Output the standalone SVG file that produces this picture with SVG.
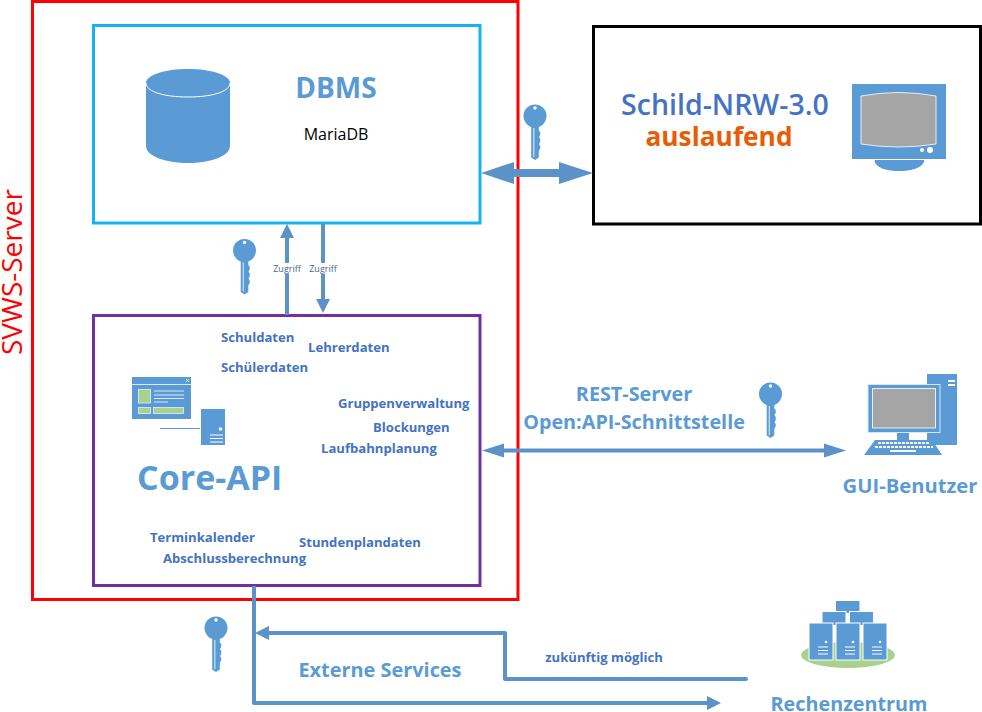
<svg xmlns="http://www.w3.org/2000/svg" width="982" height="712" viewBox="0 0 982 712">
<style>
text{font-family:"Open Sans","Noto Sans","Liberation Sans",sans-serif}
.box{fill:none;stroke-width:3}
.b{fill:#5b9bd5}
.g{fill:#a9d18e;stroke:#e4eef8;stroke-width:.8}
.gr{fill:#a5a5a5;stroke:#e4eef8;stroke-width:1}
.l{fill:#4472c4;font-weight:700;font-size:13.1px}
.h{fill:#5b9bd5;font-weight:700}
.z{fill:#44688a;font-size:9px}
.c{fill:none;stroke:#5b93c9;stroke-width:4}
.a{fill:#5b93c9}
</style>
<defs>
<g id="key">
<path class="b" d="M-3.8 10H3.800V14.500L5.200 16V19L4 21L5.200 23V26L4 28L5.200 30V32.500L3.800 35V41.500L0 44L-3.800 41.500Z"/>
<circle class="b" cx="0" cy="0" r="11.500"/>
<circle cx="0" cy="-8" r="1.700" fill="#fff"/>
<path d="M-1.200 12V41" stroke="#cfe1f3" stroke-width="1.200" fill="none"/>
</g>
<g id="srv">
<rect class="b" x="0" y="0" width="24" height="37" stroke="#fff" stroke-width="1"/>
<circle cx="17" cy="19" r="1.300" fill="#fff"/>
<path d="M9 24H19M9 27.500H19M9 31H19" stroke="#fff" stroke-width="1"/>
</g>
</defs>

<g id="svws-server">
<rect class="box" x="32.500" y="1.500" width="485.500" height="598" stroke="#ff0000"/>
<text transform="translate(22,355) rotate(-90)" font-size="28" fill="#ff0000">SVWS-Server</text>
</g>

<g id="dbms">
<rect class="box" x="93.500" y="25.500" width="386.500" height="197.500" stroke="#17b2ef"/>
<path class="b" d="M146 83C146 75 165 69 188 69S230 75 230 83V146C230 156 211 163 188 163S146 156 146 146Z"/>
<path d="M146 83C146 92 165 97 188 97S230 92 230 83" fill="none" stroke="#fff" stroke-width="1"/>
<text class="h" x="336" y="98" font-size="28" text-anchor="middle">DBMS</text>
<text x="336" y="140" font-size="16" text-anchor="middle" fill="#000">MariaDB</text>
</g>

<g id="schild">
<rect class="box" x="593.500" y="26.500" width="387" height="197.500" stroke="#000"/>
<text x="725" y="115" font-size="28.500" font-weight="600" fill="#4472c4" text-anchor="middle">Schild-NRW-3.0</text>
<text x="719" y="146" font-size="26.300" font-weight="700" fill="#e85d04" text-anchor="middle">auslaufend</text>
<rect class="b" x="852" y="84" width="94" height="75"/>
<path class="gr" d="M861 96Q899 89 936 96V144Q899 150 861 144Z"/>
<circle cx="922" cy="150" r="2" fill="#fff"/><circle cx="930" cy="150" r="3" fill="#fff"/>
<path class="b" d="M875 160H924C925 160 924 171 899 171S874 160 875 160Z"/>
</g>

<g id="core-api">
<rect class="box" x="93.500" y="315.500" width="386.500" height="270" stroke="#7030a0"/>
<text class="l" x="221" y="342">Schuldaten</text>
<text class="l" x="308" y="352">Lehrerdaten</text>
<text class="l" x="221" y="372">Schülerdaten</text>
<text class="l" x="338" y="408">Gruppenverwaltung</text>
<text class="l" x="373" y="432">Blockungen</text>
<text class="l" x="321" y="453">Laufbahnplanung</text>
<text class="l" x="150" y="542">Terminkalender</text>
<text class="l" x="163" y="563">Abschlussberechnung</text>
<text class="l" x="299" y="547">Stundenplandaten</text>
<text class="h" x="137" y="490" font-size="34">Core-API</text>
<rect class="b" x="132" y="377" width="59" height="42"/>
<path d="M132 384.500H191" stroke="#fff" stroke-width=".8"/>
<path d="M186 379L189 382M189 379L186 382" stroke="#fff" stroke-width=".8"/>
<rect class="g" x="138.500" y="389.500" width="12" height="13.500"/>
<rect class="g" x="138.500" y="407.500" width="12" height="6"/>
<rect class="g" x="153.500" y="407.500" width="30" height="6"/>
<path d="M154 391H184M154 395H184M154 398.500H184M154 402H168" stroke="#dbe8f5" stroke-width="1"/>
<path d="M160 428.500H200" stroke="#5b9bd5" stroke-width="1"/>
<rect class="b" x="201" y="409" width="24" height="36"/>
<circle cx="220.500" cy="429" r="1.800" fill="#fff"/>
<path d="M210 435H223M210 438.500H223M210 442H223" stroke="#fff" stroke-width="1"/>
</g>

<g id="gui-benutzer">
<rect class="b" x="927" y="374" width="30" height="71"/>
<path d="M948 381H955M948 385H955" stroke="#fff" stroke-width="2"/>
<rect class="b" x="868" y="384.500" width="72" height="48" stroke="#d6e6f5"/>
<rect class="gr" x="872.500" y="388.500" width="63" height="39.500"/>
<rect class="b" x="897" y="433" width="12" height="8"/>
<path class="b" d="M875 440H932L942 455H864Z"/>
<path d="M878 443H930M875 447H933" stroke="#fff" stroke-width="2" stroke-dasharray="3 1"/>
<path d="M890 451H916" stroke="#fff" stroke-width="2"/>
<text class="h" x="910" y="493" font-size="20.200" text-anchor="middle">GUI-Benutzer</text>
</g>

<g id="rechenzentrum">
<ellipse cx="848" cy="655" rx="47" ry="13" fill="#a9d18e"/>
<rect class="b" x="836" y="601" width="23.500" height="12"/>
<rect class="b" x="822" y="611.500" width="24" height="14" stroke="#fff"/>
<rect class="b" x="849.500" y="611.500" width="24" height="14" stroke="#fff"/>
<use href="#srv" x="809" y="623"/>
<use href="#srv" x="836" y="623"/>
<use href="#srv" x="863" y="623"/>
<text class="h" x="849" y="710.500" font-size="19.800" text-anchor="middle">Rechenzentrum</text>
</g>

<g id="keys">
<use href="#key" x="535" y="116"/>
<use href="#key" x="244.500" y="250.500"/>
<use href="#key" x="770.500" y="394"/>
<use href="#key" x="216" y="628"/>
</g>

<g id="connectors">
<path class="a" d="M481 173L514 162V169H559V162L593 173L559 184V177H514V184Z"/>
<path class="c" d="M287 315V236"/><path class="a" d="M287 224L294 238H280Z"/>
<path class="c" d="M323 224V301"/><path class="a" d="M323 313L316 299H330Z"/>
<rect x="272" y="263" width="30" height="11" fill="#fff"/>
<rect x="308" y="263" width="30" height="11" fill="#fff"/>
<text class="z" x="287" y="271.500" text-anchor="middle">Zugriff</text>
<text class="z" x="323" y="271.500" text-anchor="middle">Zugriff</text>
<path class="c" d="M495 450.500H830"/>
<path class="a" d="M482 450.500L504 443.500V457.500Z"/>
<path class="a" d="M846 450.500L824 443.500V457.500Z"/>
<path class="c" stroke-linejoin="round" d="M254 586V703H709"/>
<path class="a" d="M721 703L707 696V710Z"/>
<path class="c" stroke-linecap="round" stroke-linejoin="round" d="M746 679H505V633H267"/>
<path class="a" d="M255 633L269 626V640Z"/>
</g>

<g id="labels">
<text class="h" x="634" y="401" font-size="19.800" text-anchor="middle">REST-Server</text>
<text class="h" x="634" y="429" font-size="19.800" text-anchor="middle">Open:API-Schnittstelle</text>
<text class="h" x="380" y="677" font-size="19.900" text-anchor="middle">Externe Services</text>
<text x="604" y="662" font-size="13.100" font-weight="700" fill="#4472c4" text-anchor="middle">zukünftig möglich</text>
</g>
</svg>
